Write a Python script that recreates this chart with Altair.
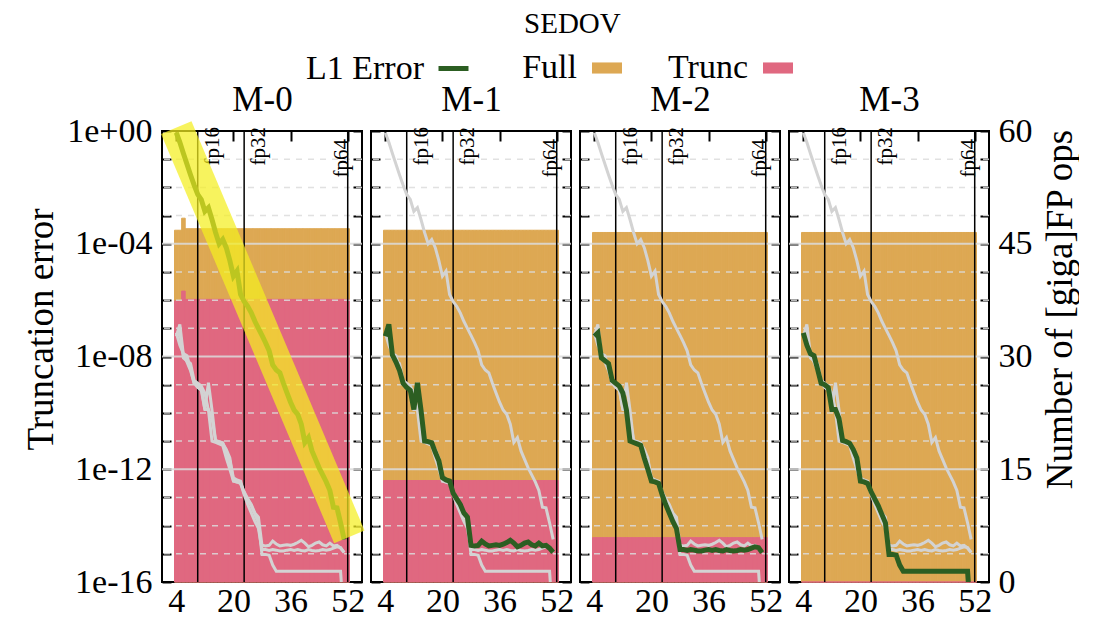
import altair as alt
import pandas as pd

FONT = "Liberation Serif"
GREEN = "#2c5e22"
ORANGE = "#dda853"
PINK = "#e06880"
GRAY = "#d3d3d3"
GRID = "#dcdcdc"
YELLOW = "#f4ee20"

panels = ["M-0", "M-1", "M-2", "M-3"]

bar_bits = [4, 5, 6, 7, 8, 9, 10, 11, 12, 13, 14, 15, 16, 17, 18, 19, 20, 21, 22, 23, 24, 25, 26, 27, 28,
            29, 30, 31, 32, 33, 34, 35, 36, 37, 38, 39, 40, 41, 42, 43, 44, 45, 46, 47, 48, 49, 50, 51, 52]
line_bits = [4, 5, 6, 7, 8, 9, 10, 11, 12, 13, 14, 15, 16, 17, 18, 19, 20, 21, 22, 23, 24, 25, 26, 27,
             28, 29, 30, 31, 32, 33, 34, 35, 36, 37, 38, 39, 40, 41, 42, 43, 44, 45, 46, 47, 48, 49, 50, 51]

# L1 error as log10 exponents (bits 4..51)
l1_log10_m0 = [-0.06, -0.40, -0.80, -1.18, -1.56, -1.92, -2.25, -2.43, -2.85, -2.72,
               -3.14, -3.60, -4.00, -3.85, -4.14, -4.60, -5.15, -4.97, -5.80, -6.05,
               -6.22, -6.45, -6.75, -7.00, -7.25, -7.51, -7.80, -8.30, -8.48, -8.58,
               -8.95, -9.29, -9.62, -9.90, -10.05, -10.40, -11.05, -10.88, -11.35, -11.65,
               -11.95, -12.20, -12.45, -12.75, -13.35, -13.37, -13.90, -14.49]
l1_log10_m1 = [-7.28, -6.86, -7.95, -8.20, -8.50, -8.95, -9.10, -9.20, -9.88, -8.93,
               -9.90, -11.00, -11.02, -11.06, -11.40, -11.70, -12.30, -12.38, -12.42, -12.85,
               -13.05, -13.25, -13.55, -13.70, -14.70, -14.72, -14.70, -14.55, -14.65, -14.72,
               -14.70, -14.68, -14.70, -14.66, -14.60, -14.52, -14.62, -14.75, -14.70, -14.62,
               -14.58, -14.68, -14.72, -14.62, -14.72, -14.70, -14.80, -14.95]
l1_log10_m2 = [-7.28, -7.16, -8.05, -8.15, -8.25, -8.85, -8.95, -9.05, -9.30, -9.90,
               -11.00, -11.05, -11.10, -11.15, -11.60, -12.00, -12.42, -12.45, -12.50, -12.90,
               -13.25, -13.55, -13.85, -14.10, -14.85, -14.85, -14.88, -14.85, -14.87, -14.90,
               -14.90, -14.87, -14.85, -14.88, -14.85, -14.88, -14.90, -14.85, -14.88, -14.90,
               -14.88, -14.85, -14.87, -14.85, -14.80, -14.75, -14.78, -14.96]
l1_log10_m3 = [-7.16, -7.60, -7.90, -7.97, -8.45, -8.95, -9.00, -9.10, -9.88, -9.88,
               -10.20, -10.98, -11.02, -11.08, -11.30, -11.60, -12.42, -12.45, -12.50, -12.80,
               -13.05, -13.30, -13.60, -13.90, -15.02, -15.02, -15.05, -15.40, -15.62, -15.62,
               -15.62, -15.62, -15.62, -15.62, -15.62, -15.62, -15.62, -15.62, -15.62, -15.62,
               -15.62, -15.62, -15.62, -15.62, -15.62, -15.62, -15.62, -17.50]

# giga FP ops per mantissa width (bits 4..52)
full_m0 = [46.8, 46.8, 48.4, 47.0, 47.0, 47.0, 47.0, 47.0, 47.0, 47.0, 47.0, 47.0, 47.0, 47.0, 47.0,
           47.0, 47.0, 47.0, 47.0, 47.0, 47.0, 47.0, 47.0, 47.0, 47.0, 47.0, 47.0, 47.0, 47.0, 47.0,
           47.0, 47.0, 47.0, 47.0, 47.0, 47.0, 47.0, 47.0, 47.0, 47.0, 47.0, 47.0, 47.0, 47.0, 47.0,
           47.0, 47.0, 47.0, 47.0]
trunc_m0 = [37.4, 37.4, 38.7, 37.6, 37.6, 37.6, 37.6, 37.6, 37.6, 37.6, 37.6, 37.6, 37.6, 37.6, 37.6,
            37.6, 37.6, 37.6, 37.6, 37.6, 37.6, 37.6, 37.6, 37.6, 37.6, 37.6, 37.6, 37.6, 37.6, 37.6,
            37.6, 37.6, 37.6, 37.6, 37.6, 37.6, 37.6, 37.6, 37.6, 37.6, 37.6, 37.6, 37.6, 37.6, 37.6,
            37.6, 37.6, 37.6, 37.6]
full_m1 = [46.8, 46.8, 46.8, 46.8, 46.8, 46.8, 46.8, 46.8, 46.8, 46.8, 46.8, 46.8, 46.8, 46.8, 46.8,
           46.8, 46.8, 46.8, 46.8, 46.8, 46.8, 46.8, 46.8, 46.8, 46.8, 46.8, 46.8, 46.8, 46.8, 46.8,
           46.8, 46.8, 46.8, 46.8, 46.8, 46.8, 46.8, 46.8, 46.8, 46.8, 46.8, 46.8, 46.8, 46.8, 46.8,
           46.8, 46.8, 46.8, 46.8]
trunc_m1 = [13.5, 13.5, 13.5, 13.5, 13.5, 13.5, 13.5, 13.5, 13.5, 13.5, 13.5, 13.5, 13.5, 13.5, 13.5,
            13.5, 13.5, 13.5, 13.5, 13.5, 13.5, 13.5, 13.5, 13.5, 13.5, 13.5, 13.5, 13.5, 13.5, 13.5,
            13.5, 13.5, 13.5, 13.5, 13.5, 13.5, 13.5, 13.5, 13.5, 13.5, 13.5, 13.5, 13.5, 13.5, 13.5,
            13.5, 13.5, 13.5, 13.5]
full_m2 = [46.5, 46.5, 46.5, 46.5, 46.5, 46.5, 46.5, 46.5, 46.5, 46.5, 46.5, 46.5, 46.5, 46.5, 46.5,
           46.5, 46.5, 46.5, 46.5, 46.5, 46.5, 46.5, 46.5, 46.5, 46.5, 46.5, 46.5, 46.5, 46.5, 46.5,
           46.5, 46.5, 46.5, 46.5, 46.5, 46.5, 46.5, 46.5, 46.5, 46.5, 46.5, 46.5, 46.5, 46.5, 46.5,
           46.5, 46.5, 46.5, 46.5]
trunc_m2 = [5.9, 5.9, 5.9, 5.9, 5.9, 5.9, 5.9, 5.9, 5.9, 5.9, 5.9, 5.9, 5.9, 5.9, 5.9,
            5.9, 5.9, 5.9, 5.9, 5.9, 5.9, 5.9, 5.9, 5.9, 5.9, 5.9, 5.9, 5.9, 5.9, 5.9,
            5.9, 5.9, 5.9, 5.9, 5.9, 5.9, 5.9, 5.9, 5.9, 5.9, 5.9, 5.9, 5.9, 5.9, 5.9,
            5.9, 5.9, 5.9, 5.9]
full_m3 = [46.5, 46.5, 46.5, 46.5, 46.5, 46.5, 46.5, 46.5, 46.5, 46.5, 46.5, 46.5, 46.5, 46.5, 46.5,
           46.5, 46.5, 46.5, 46.5, 46.5, 46.5, 46.5, 46.5, 46.5, 46.5, 46.5, 46.5, 46.5, 46.5, 46.5,
           46.5, 46.5, 46.5, 46.5, 46.5, 46.5, 46.5, 46.5, 46.5, 46.5, 46.5, 46.5, 46.5, 46.5, 46.5,
           46.5, 46.5, 46.5, 46.5]
trunc_m3 = [0.0, 0.0, 0.0, 0.0, 0.0, 0.0, 0.0, 0.0, 0.0, 0.0, 0.0, 0.0, 0.0, 0.0, 0.0,
            0.0, 0.0, 0.0, 0.0, 0.0, 0.0, 0.0, 0.0, 0.0, 0.0, 0.0, 0.0, 0.0, 0.0, 0.0,
            0.0, 0.0, 0.0, 0.0, 0.0, 0.0, 0.0, 0.0, 0.0, 0.0, 0.0, 0.0, 0.0, 0.0, 0.0,
            0.0, 0.0, 0.0, 0.0]

fp_names = ["fp16", "fp32", "fp64"]
fp_bits = [10, 23, 52]

x_ticks = [4, 20, 36, 52]
y_left_ticks = [1e0, 1e-1, 1e-2, 1e-3, 1e-4, 1e-5, 1e-6, 1e-7, 1e-8, 1e-9, 1e-10, 1e-11, 1e-12,
                1e-13, 1e-14, 1e-15, 1e-16]
y_right_ticks = [0, 3.75, 7.5, 11.25, 15, 18.75, 22.5, 26.25, 30, 33.75, 37.5, 41.25, 45, 48.75,
                 52.5, 56.25, 60]
grid_major = [1e-4, 1e-8, 1e-12]
grid_minor = [1e-1, 1e-2, 1e-3, 1e-5, 1e-6, 1e-7, 1e-9, 1e-10, 1e-11, 1e-13, 1e-14, 1e-15]

# highlighted band over the M-0 error curve
hl_bits = [4.0, 52.46]
hl_err = [1.32, 4.0e-15]

# ---------------- tables ----------------
l1 = {"M-0": l1_log10_m0, "M-1": l1_log10_m1, "M-2": l1_log10_m2, "M-3": l1_log10_m3}
rows = []
for s in panels:
    for b, e in zip(line_bits, l1[s]):
        rows.append({"series": s, "bit": b, "err": 10.0 ** e})
lines_df = pd.DataFrame(rows)

ops = {"M-0": (full_m0, trunc_m0), "M-1": (full_m1, trunc_m1),
       "M-2": (full_m2, trunc_m2), "M-3": (full_m3, trunc_m3)}
brows = []
for s in panels:
    f, t = ops[s]
    for b, v in zip(bar_bits, f):
        brows.append({"panel": s, "bit": b, "kind": "Full", "ops": v})
    for b, v in zip(bar_bits, t):
        brows.append({"panel": s, "bit": b, "kind": "Trunc", "ops": v})
bars_df = pd.DataFrame(brows)

fp_df = pd.DataFrame({"name": fp_names, "bit": fp_bits, "top": [1.0] * len(fp_names)})
gmaj_df = pd.DataFrame({"v": grid_major})
gmin_df = pd.DataFrame({"v": grid_minor})
hl_df = pd.DataFrame({"bit": hl_bits, "err": hl_err})

# ---------------- scales ----------------
xs = alt.Scale(domain=[0, 56], nice=False, zero=False)
ylog = alt.Scale(type="log", domain=[1e-16, 1], nice=False)
ylin = alt.Scale(domain=[0, 60], nice=False, zero=False)
fill_scale = alt.Scale(domain=["Full", "Trunc"], range=[ORANGE, PINK])
stroke_scale = alt.Scale(domain=["L1 Error"], range=[GREEN])


def neg(v):
    return alt.ExprRef(expr=str(v))


E = "round(log(datum.value)/LN10)"
LEFT_LABEL_EXPR = (f"{E} % 4 == 0 ? ({E} == 0 ? '1e+00' : '1e-' + (abs({E}) < 10 ? '0' : '') + abs({E})) : ''")

stroke_legend = alt.Legend(orient="none", legendX=274, legendY=neg(-80), direction="horizontal",
                           title=None, symbolType="stroke", symbolSize=900, symbolStrokeWidth=5,
                           labelAlign="right", labelOffset=neg(-47), labelFontSize=34, labelFont=FONT,
                           labelColor="black", padding=0)
fill_legend = alt.Legend(orient="none", legendX=428, legendY=neg(-80), direction="horizontal",
                         title=None, symbolType="M-1,-0.37H1V0.37H-1Z", symbolSize=900,
                         symbolStrokeWidth=0, labelAlign="right", labelOffset=neg(-47),
                         columnPadding=46, labelFontSize=34, labelFont=FONT,
                         labelColor="black", padding=0)


def panel(i, name):
    first, last = i == 0, i == 3
    ax_bottom = alt.Axis(values=x_ticks, orient="bottom", tickSize=10, offset=neg(-10), domain=False,
                         grid=False, labelPadding=2, labelFontSize=34, labelFlush=False,
                         labelOverlap=False, title=None)
    ax_top = alt.Axis(values=x_ticks, orient="top", tickSize=10, offset=neg(-10), domain=False,
                      grid=False, labels=False, title=name, titleFontSize=35, titlePadding=13)
    if first:
        ax_left = alt.Axis(values=y_left_ticks, orient="left", tickSize=9, offset=neg(-9), domain=False,
                           grid=False, labels=True, labelExpr=LEFT_LABEL_EXPR, labelPadding=10,
                           labelFontSize=34, labelFlush=False, labelOverlap=False,
                           title="Truncation error", titleFontSize=37, titlePadding=6, titleY=198)
    else:
        ax_left = alt.Axis(values=y_left_ticks, orient="left", tickSize=9, offset=neg(-9), domain=False,
                           grid=False, labels=False, title=None)
    if last:
        ax_right = alt.Axis(values=y_right_ticks, orient="right", tickSize=9, offset=neg(-9), domain=False,
                            grid=False, labels=True,
                            labelExpr="datum.value % 15 == 0 ? datum.label : ''",
                            labelPadding=9, labelFontSize=34, labelFlush=False, labelOverlap=False,
                            title="Number of [giga]FP ops", titleFontSize=37, titleAngle=270,
                            titleBaseline="top", titlePadding=10, titleY=178)
    else:
        ax_right = alt.Axis(values=y_right_ticks, orient="right", tickSize=9, offset=neg(-9), domain=False,
                            grid=False, labels=False, title=None)

    X = alt.X("bit:Q", scale=xs, axis=ax_bottom)

    bars = alt.Chart(bars_df).transform_filter(alt.datum.panel == name).transform_calculate(
        x0="datum.bit - 0.5", x1="datum.bit + 0.5"
    ).mark_rect(strokeWidth=1).encode(
        x=alt.X("x0:Q", scale=xs, axis=ax_top),
        x2="x1:Q",
        y=alt.Y("ops:Q", scale=ylin, axis=ax_right),
        y2=alt.datum(0),
        fill=alt.Fill("kind:N", scale=fill_scale, legend=fill_legend),
        stroke=alt.condition(alt.datum.kind == "Full", alt.value(ORANGE), alt.value(PINK)),
    )
    right_group = alt.layer(bars)

    gmaj = alt.Chart(gmaj_df).mark_rule(color=GRID, strokeWidth=2, opacity=0.85).encode(
        y=alt.Y("v:Q", scale=ylog, axis=ax_left))
    gmin = alt.Chart(gmin_df).mark_rule(color=GRID, strokeWidth=1.5, opacity=0.85,
                                        strokeDash=[6, 6]).encode(
        y=alt.Y("v:Q", scale=ylog, axis=ax_left))
    fprule = alt.Chart(fp_df).mark_rule(color="black", strokeWidth=1.5).encode(x=X)
    fptext_a = alt.Chart(fp_df).transform_filter(alt.datum.bit < 50).mark_text(
        angle=270, align="right", baseline="top", dx=4, dy=4, fontSize=21, font=FONT, color="black"
    ).encode(x=X, y=alt.Y("top:Q", scale=ylog, axis=ax_left), text="name:N")
    fptext_b = alt.Chart(fp_df).transform_filter(alt.datum.bit >= 50).mark_text(
        angle=270, align="right", baseline="bottom", dx=-8, dy=4, fontSize=21, font=FONT, color="black"
    ).encode(x=X, y=alt.Y("top:Q", scale=ylog, axis=ax_left), text="name:N")
    gray = alt.Chart(lines_df).mark_line(strokeWidth=3, color=GRAY, clip=True).encode(
        x=X, y=alt.Y("err:Q", scale=ylog, axis=ax_left), detail="series:N")
    green = alt.Chart(lines_df).transform_filter(alt.datum.series == name).transform_calculate(
        lab="'L1 Error'"
    ).mark_line(strokeWidth=5, clip=True).encode(
        x=X, y=alt.Y("err:Q", scale=ylog, axis=ax_left),
        stroke=alt.Stroke("lab:N", scale=stroke_scale, legend=stroke_legend))
    layers = [gmaj, gmin, fprule, fptext_a, fptext_b, gray, green]
    if first:
        hl = alt.Chart(hl_df).mark_line(color=YELLOW, strokeWidth=33, strokeCap="butt",
                                        opacity=0.72, clip=False).encode(
            x=X, y=alt.Y("err:Q", scale=ylog, axis=ax_left))
        layers.append(hl)
    left_group = alt.layer(*layers)

    return alt.layer(right_group, left_group).resolve_scale(
        x="independent", y="independent"
    ).properties(width=200, height=451)


chart = alt.hconcat(*[panel(i, n) for i, n in enumerate(panels)], spacing=9, bounds="flush").properties(
    title=alt.TitleParams("SEDOV", font=FONT, fontSize=29, fontWeight="normal", color="black",
                          anchor="middle", offset=12, dx=22),
    padding={"left": 13, "top": 2, "right": 0, "bottom": 0},
).configure_view(stroke="black", strokeWidth=2).configure_axis(
    labelFont=FONT, titleFont=FONT, labelColor="black", titleColor="black", tickColor="black",
    tickWidth=2, titleFontWeight="normal"
).configure_legend(labelFont=FONT, labelColor="black")

chart.save("out.html", embed_options={"renderer": "svg", "actions": False})
